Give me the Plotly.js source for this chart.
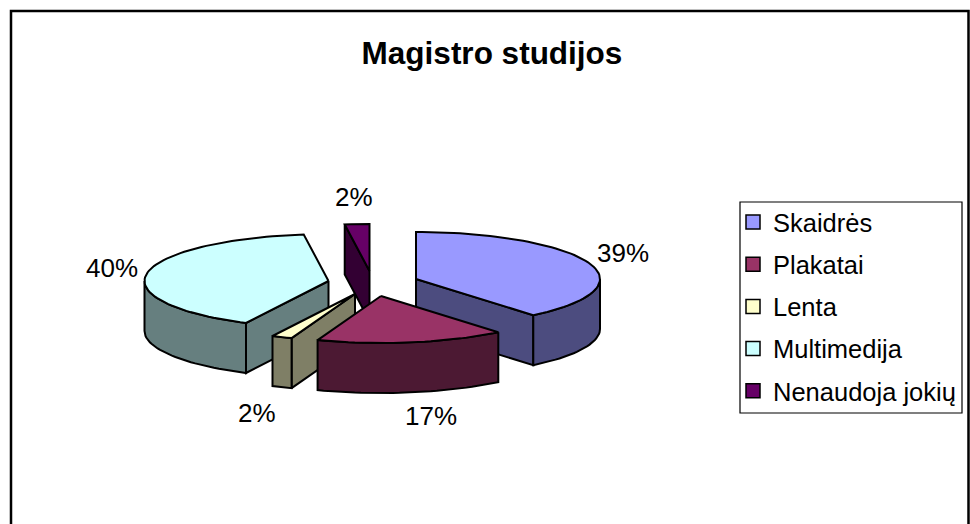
<!DOCTYPE html>
<html>
<head>
<meta charset="utf-8">
<script src="https://cdn.plot.ly/plotly-3.0.1.min.js"></script>
<style>html,body{margin:0;padding:0;background:#fff}#c{width:970px;height:524px}</style>
</head>
<body>
<div id="c"></div>
<script>
var categories = ["Skaidrės", "Plakatai", "Lenta", "Multimedija", "Nenaudoja jokių"];
var values = [39.0, 16.6, 1.8, 40.45, 2.15];
var topColors = ["#9999FF", "#993366", "#FFFFCC", "#CCFFFF", "#660066"];
var sideColors = ["#4C4C7F", "#4C1933", "#7F7F66", "#667F7F", "#330033"];
var centersX = [416, 381, 355, 328.5, 369.5];
var centersY = [279, 296, 294, 281, 271];
var labelDX = [207, 50, -98, -216.5, -15.5];
var labelDY = [-26, 120, 119, -13, -74];
var drawOrder = [4, 0, 3, 2, 1];
var RX = 184, RY = 47, DEPTH = 50, FONT = "Liberation Sans, Arial, sans-serif";

var total = values.reduce(function (a, b) { return a + b; }, 0);
var starts = [], ends = [], acc = 0;
values.forEach(function (v) { starts.push(acc); acc += v / total * 360; ends.push(acc); });

function pt(i, deg, drop) {
  var r = deg * Math.PI / 180;
  return [centersX[i] + RX * Math.sin(r), centersY[i] - RY * Math.cos(r) + (drop || 0)];
}
function arc(i, a, b, drop) {
  var out = [], n = Math.max(2, Math.ceil(Math.abs(b - a) / 2));
  for (var k = 0; k <= n; k++) out.push(pt(i, a + (b - a) * k / n, drop));
  return out;
}
function poly(points, color) {
  return {
    type: "scatter", mode: "lines", fill: "toself", fillcolor: color,
    x: points.map(function (p) { return p[0]; }).concat([points[0][0]]),
    y: points.map(function (p) { return p[1]; }).concat([points[0][1]]),
    line: { color: "#000", width: 2, shape: "linear" },
    showlegend: false, hoverinfo: "skip"
  };
}
function radial(i, deg, color) {
  return poly([[centersX[i], centersY[i]], pt(i, deg), pt(i, deg, DEPTH), [centersX[i], centersY[i] + DEPTH]], color);
}

var traces = [];
drawOrder.forEach(function (i) {
  var a = starts[i], b = ends[i];
  if (Math.sin(a * Math.PI / 180) < -1e-6) traces.push(radial(i, a, sideColors[i]));
  if (Math.sin(b * Math.PI / 180) > 1e-6) traces.push(radial(i, b, sideColors[i]));
  var fa = Math.max(a, 90), fb = Math.min(b, 270);
  if (fb > fa) traces.push(poly(arc(i, fa, fb).concat(arc(i, fb, fa, DEPTH)), sideColors[i]));
  traces.push(poly([[centersX[i], centersY[i]]].concat(arc(i, a, b)), topColors[i]));
});
categories.forEach(function (name, i) {
  traces.push({
    type: "scatter", mode: "markers", name: name, x: [null], y: [null],
    legendgroup: name,
    marker: { symbol: "square", size: 14, color: topColors[i], line: { color: "#000", width: 1.5 } }
  });
});

var annotations = categories.map(function (c, i) {
  return {
    x: centersX[i] + labelDX[i], y: centersY[i] + labelDY[i], xref: "x", yref: "y",
    text: Math.round(values[i]) + "%", showarrow: false,
    xanchor: "center", yanchor: "middle",
    font: { family: FONT, size: 26, color: "#000" }
  };
});

var layout = {
  width: 970, height: 524,
  margin: { l: 0, r: 0, t: 0, b: 0 },
  paper_bgcolor: "#fff", plot_bgcolor: "#fff",
  title: {
    text: "<b>Magistro studijos</b>", x: 492 / 970, xanchor: "center",
    y: 1 - 53 / 524, yanchor: "middle", xref: "paper", yref: "paper",
    font: { family: FONT, size: 31.5, color: "#000" }
  },
  xaxis: { visible: false, range: [0, 970], fixedrange: true },
  yaxis: { visible: false, range: [524, 0], fixedrange: true },
  showlegend: true,
  legend: {
    x: 733 / 970, xanchor: "left", y: 1 - 199 / 524, yanchor: "top",
    bgcolor: "rgba(0,0,0,0)", borderwidth: 0,
    font: { family: FONT, size: 25.5, color: "#000" },
    tracegroupgap: 6, itemclick: false, itemdoubleclick: false
  },
  shapes: [{
    type: "rect", xref: "paper", yref: "paper", x0: 11 / 970, x1: 968.5 / 970, y0: -0.05, y1: 1 - 11 / 524,
    line: { color: "#000", width: 2.5 }, fillcolor: "rgba(0,0,0,0)", layer: "above"
  }, {
    type: "rect", xref: "x", yref: "y", x0: 740, x1: 962, y0: 202, y1: 413,
    line: { color: "#000", width: 1.2 }, fillcolor: "#fff", layer: "below"
  }],
  annotations: annotations
};
Plotly.newPlot("c", traces, layout, { displayModeBar: false, staticPlot: true });
</script>
</body>
</html>
